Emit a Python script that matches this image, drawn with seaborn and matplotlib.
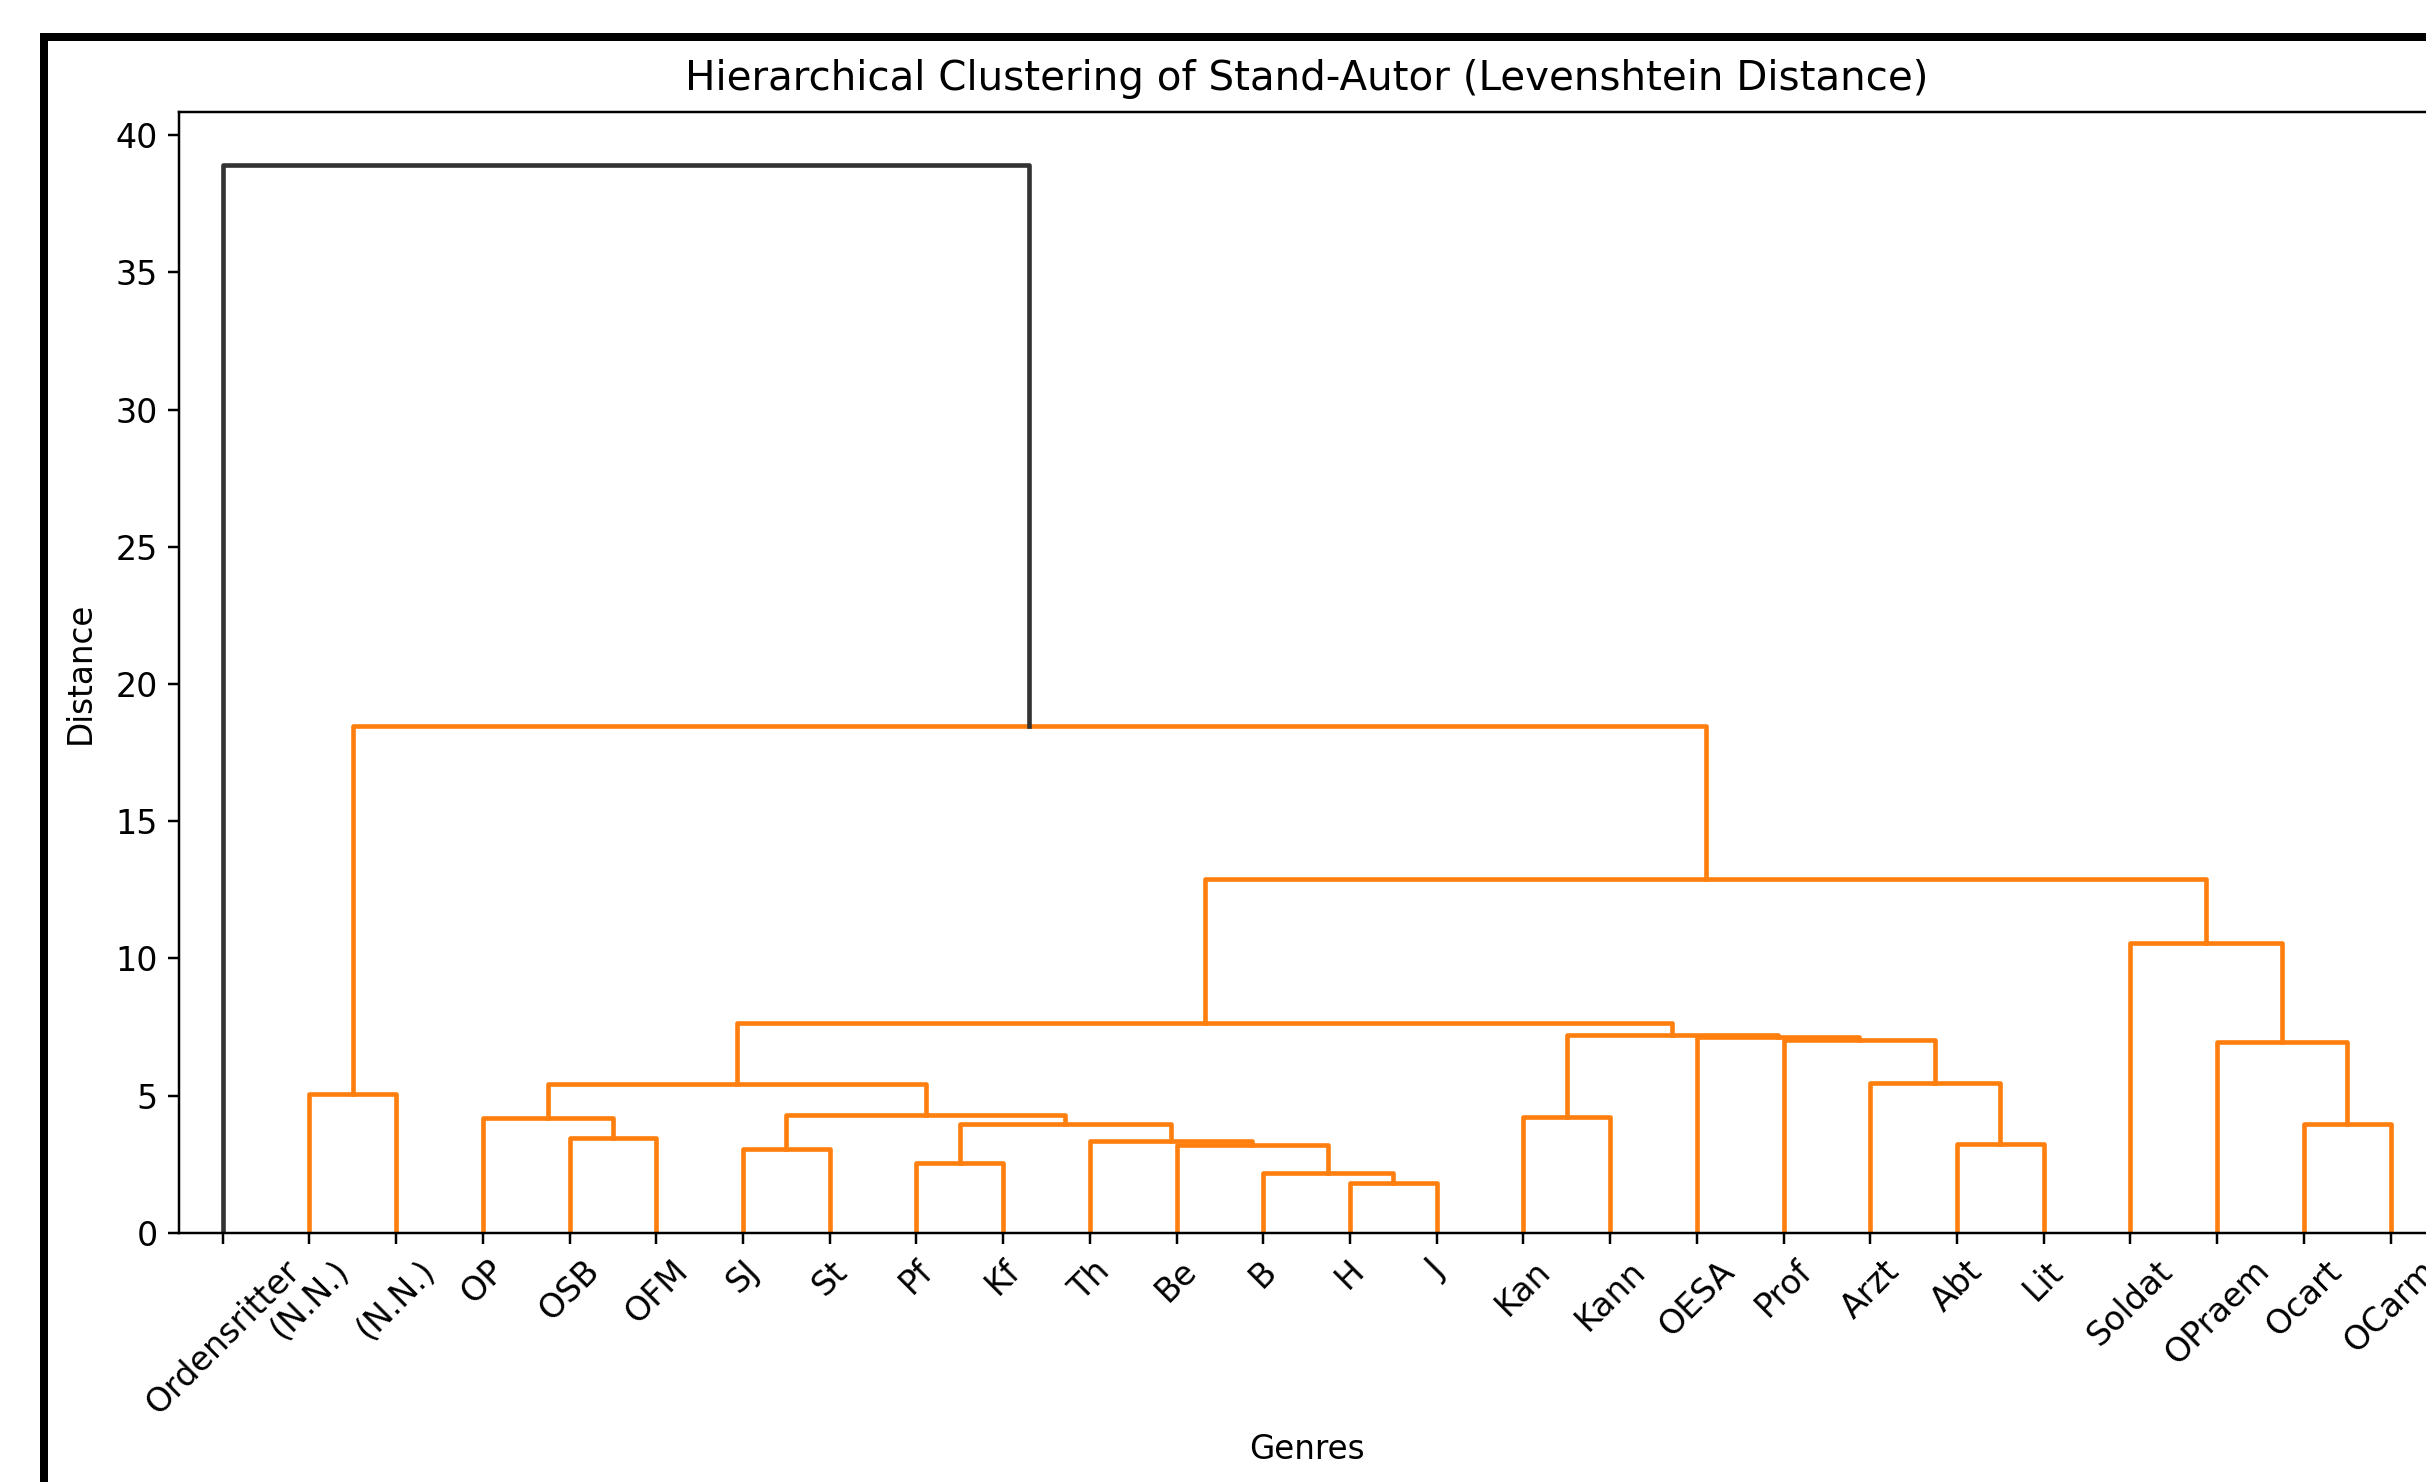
import pandas as pd
import seaborn as sns
import matplotlib.pyplot as plt
from matplotlib.patches import Rectangle

# Leaves in the order they appear on the x axis
leaf_labels = ['Ordensritter', '(N.N.)', '(N.N.)', 'OP', 'OSB', 'OFM', 'SJ', 'St',
               'Pf', 'Kf', 'Th', 'Be', 'B', 'H', 'J', 'Kan', 'Kann', 'OESA',
               'Prof', 'Arzt', 'Abt', 'Lit', 'Soldat', 'OPraem', 'Ocart', 'OCarm']

# Merge steps (ids < 26 are leaves, id 26 + k is the k-th merge)
merge_left = [13, 12, 8, 6, 11, 20, 10, 4, 28, 24, 3, 15, 29,
              1, 36, 19, 23, 18, 17, 37, 40, 22, 46, 39, 0]
merge_right = [14, 26, 9, 7, 27, 21, 30, 5, 32, 25, 33, 16, 34,
               2, 38, 31, 35, 41, 43, 44, 45, 42, 47, 48, 49]
merge_height = [1.82, 2.16, 2.55, 3.05, 3.19, 3.23, 3.35, 3.47, 3.96, 3.96, 4.18, 4.22, 4.28,
                5.07, 5.42, 5.44, 6.95, 7.04, 7.15, 7.22, 7.64, 10.57, 12.9, 18.48, 38.9]

n = len(leaf_labels)
threshold = 0.7 * max(merge_height)

# build the U-shaped links of the dendrogram
xpos = {i: float(i) for i in range(n)}
ypos = {i: 0.0 for i in range(n)}
rows = []
for k, (a, b, h) in enumerate(zip(merge_left, merge_right, merge_height)):
    group = 'above' if h > threshold else 'below'
    pts = [(xpos[a], ypos[a]), (xpos[a], h), (xpos[b], h), (xpos[b], ypos[b])]
    for x, y in pts:
        rows.append({'link': k, 'x': x, 'y': y, 'group': group})
    xpos[n + k] = (xpos[a] + xpos[b]) / 2
    ypos[n + k] = h
links = pd.DataFrame(rows)

dpi = 222
fig = plt.figure(figsize=(2426 / dpi, 1482 / dpi), dpi=dpi)
ax = fig.add_axes([0.0739, 0.1682, 0.9294, 0.7562])

sns.lineplot(data=links, x='x', y='y', units='link', estimator=None, sort=False,
             hue='group', palette={'above': '#333333', 'below': '#ff7f0e'},
             legend=False, linewidth=1.5, ax=ax)

ax.set_xlim(-0.5, n - 0.5)
ax.set_ylim(0, max(merge_height) * 1.05)
ax.set_xticks(range(n))
ax.set_xticklabels(leaf_labels, rotation=45)
ax.tick_params(labelsize=10.8)
ax.set_title('Hierarchical Clustering of Stand-Autor (Levenshtein Distance)', fontsize=13.1, pad=7)
ax.set_xlabel('Genres', fontsize=10.6)
ax.set_ylabel('Distance', fontsize=10.6, labelpad=6)

# screenshot frame around the figure
frame = Rectangle((44 / 2426, -0.3), 2, 0.3 + 1 - 37.5 / 1482, transform=fig.transFigure,
                  fill=False, edgecolor='black', linewidth=8 * 72 / dpi, clip_on=False)
fig.add_artist(frame)

fig.savefig('out.png', dpi=dpi)
